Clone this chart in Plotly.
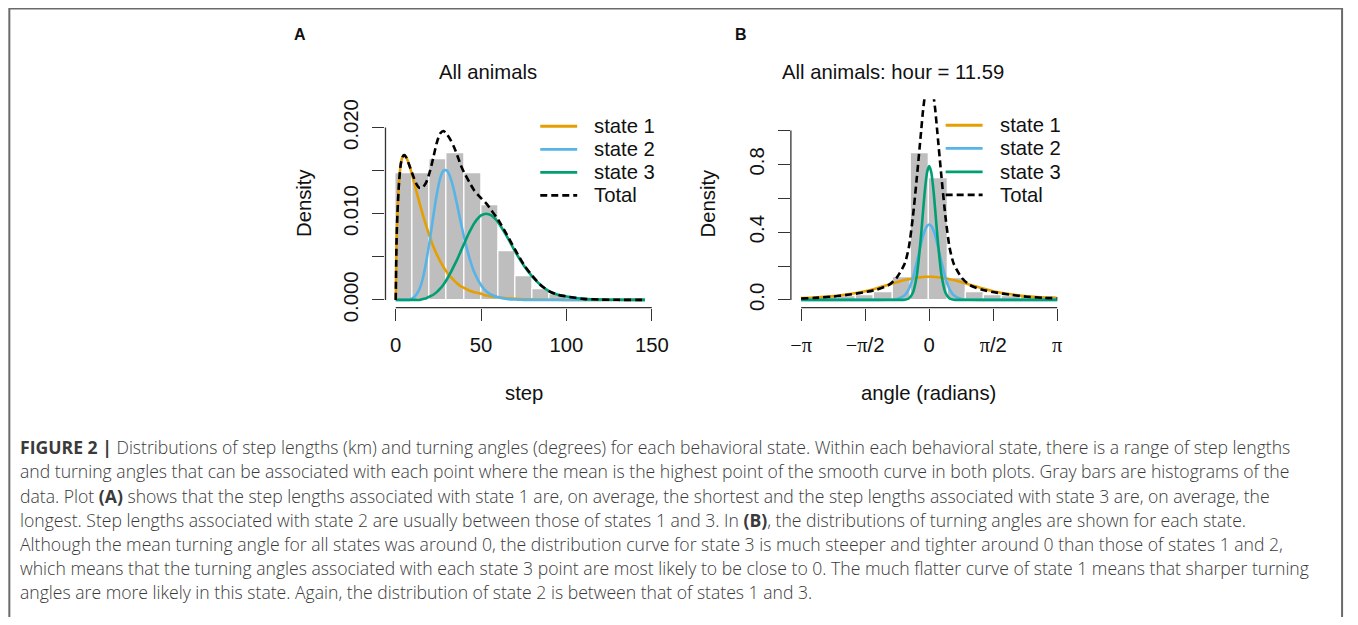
import numpy as np
import plotly.graph_objects as go

# figure div size (page adds an 8px body margin)
W, H = 1342, 609
OFF = 8
# measured mapping from page pixels to the captured picture
SX, SY, BY = 0.9955, 0.975, 1.2

# ---------------- Panel A : step lengths ----------------
step_bin_left = [0, 10, 20, 30, 40, 50, 60, 70, 80, 90]
step_bin_width = 10
step_hist = [0.0147, 0.0147, 0.0163, 0.0170, 0.0147, 0.0110, 0.0057, 0.0028, 0.0012, 0.0007]

step_x = [0, 0.5, 1, 2, 3, 4, 5, 6, 8, 10, 12, 14, 16, 18, 20, 22, 24, 26, 28, 30, 32, 34, 36, 38,
          40, 43, 46, 50, 53, 56, 60, 65, 70, 75, 80, 85, 90, 95, 100, 110, 120, 130, 146]
step_state1 = [0, 0.0070, 0.0100, 0.0138, 0.0158, 0.0166, 0.0168, 0.0166, 0.0156, 0.0142, 0.0127,
               0.0112, 0.0098, 0.0085, 0.0073, 0.0062, 0.0053, 0.0045, 0.0038, 0.0032, 0.0027,
               0.0023, 0.0019, 0.0016, 0.0014, 0.0011, 0.0009, 0.0007, 0.0005, 0.0004, 0.0003,
               0.0002, 0.00012, 0.00008, 0.00005, 0.00003, 0.00002, 0.00001, 0, 0, 0, 0, 0]
step_state2 = [0, 0, 0, 0, 0, 0, 0, 0, 0, 0.0002, 0.0006, 0.0013, 0.0026, 0.0046, 0.0070, 0.0097,
               0.0122, 0.0141, 0.0150, 0.0150, 0.0142, 0.0128, 0.0110, 0.0091, 0.0073, 0.0050,
               0.0032, 0.0017, 0.0010, 0.0006, 0.0003, 0.0001, 0.00004, 0, 0, 0, 0, 0, 0, 0, 0, 0, 0]
step_state3 = [0, 0, 0, 0, 0, 0, 0, 0, 0, 0, 0, 0, 0.0001, 0.0002, 0.0004, 0.0006, 0.0009, 0.0013,
               0.0018, 0.0024, 0.0031, 0.0039, 0.0047, 0.0056, 0.0065, 0.0078, 0.0089, 0.0098,
               0.0100, 0.0098, 0.0090, 0.0074, 0.0056, 0.0040, 0.0027, 0.0017, 0.0010, 0.0006,
               0.0004, 0.00012, 0.00004, 0.00001, 0]
step_total = [0, 0.0070, 0.0100, 0.0138, 0.0158, 0.0166, 0.0168, 0.0166, 0.0156, 0.0145, 0.0135,
              0.0130, 0.0131, 0.0137, 0.0149, 0.0165, 0.0182, 0.0193, 0.0196, 0.0192, 0.0186,
              0.0178, 0.0168, 0.0157, 0.0148, 0.0137, 0.0127, 0.0118, 0.0112, 0.0104, 0.0093,
              0.0076, 0.0058, 0.0041, 0.0028, 0.0017, 0.0010, 0.0006, 0.0004, 0.00012, 0.00004,
              0.00001, 0]
step_ticks = [0, 50, 100, 150]
dens_ticks_A = [0.000, 0.005, 0.010, 0.015, 0.020]
dens_labels_A = ["0.000", "", "0.010", "", "0.020"]

# ---------------- Panel B : turning angles ----------------
angle_bin_edges = list(np.linspace(-np.pi, np.pi, 15))
angle_hist = [0.018, 0.018, 0.022, 0.028, 0.045, 0.136, 0.866, 0.718, 0.126, 0.045, 0.028, 0.022,
              0.022, 0.024]
angle_x = [-3.1416, -2.8, -2.4, -2.0, -1.6, -1.3, -1.0, -0.8, -0.6, -0.5, -0.4, -0.3, -0.2, -0.15,
           -0.1, -0.05, 0, 0.05, 0.1, 0.15, 0.2, 0.3, 0.4, 0.5, 0.6, 0.8, 1.0, 1.3, 1.6, 2.0, 2.4,
           2.8, 3.1416]
angle_state1 = [0.011, 0.014, 0.021, 0.033, 0.050, 0.068, 0.090, 0.104, 0.117, 0.122, 0.127, 0.131,
                0.134, 0.135, 0.136, 0.137, 0.137, 0.137, 0.136, 0.135, 0.134, 0.131, 0.127, 0.122,
                0.117, 0.104, 0.090, 0.068, 0.050, 0.033, 0.021, 0.014, 0.011]
angle_state2 = [0, 0, 0, 0, 0, 0, 0.0005, 0.004, 0.027, 0.064, 0.130, 0.226, 0.331, 0.378, 0.414,
                0.437, 0.445, 0.437, 0.414, 0.378, 0.331, 0.226, 0.130, 0.064, 0.027, 0.004, 0.0005,
                0, 0, 0, 0, 0, 0]
angle_state3 = [0, 0, 0, 0, 0, 0, 0, 0, 0.001, 0.008, 0.042, 0.150, 0.380, 0.525, 0.660, 0.755,
                0.790, 0.755, 0.660, 0.525, 0.380, 0.150, 0.042, 0.008, 0.001, 0, 0, 0, 0, 0, 0, 0, 0]
angle_total = [0.008, 0.012, 0.019, 0.030, 0.045, 0.060, 0.087, 0.130, 0.215, 0.310, 0.490, 0.730,
               0.990, 1.120, 1.220, 1.330, 1.370, 1.330, 1.220, 1.120, 0.990, 0.730, 0.490, 0.310,
               0.215, 0.130, 0.087, 0.060, 0.045, 0.030, 0.019, 0.012, 0.010]
angle_ticks = [-np.pi, -np.pi / 2, 0, np.pi / 2, np.pi]
PI = '<span style="font-family:Liberation Serif, serif">\u03c0</span>'
MINUS = '<span style="font-family:Liberation Serif, serif">\u2212</span>'
angle_labels = [MINUS + PI, MINUS + PI + "/2", "0", PI + "/2", PI]
dens_ticks_B = [0.0, 0.2, 0.4, 0.6, 0.8, 1.0]
dens_labels_B = ["0.0", "", "0.4", "", "0.8", ""]

series_names = ["state 1", "state 2", "state 3", "Total"]
colors = ["#E69F00", "#56B4E9", "#009E73", "#000000"]

caption_lines = [
    "<b>FIGURE 2 |</b> Distributions of step lengths (km) and turning angles (degrees) for each behavioral state. Within each behavioral state, there is a range of step lengths",
    "and turning angles that can be associated with each point where the mean is the highest point of the smooth curve in both plots. Gray bars are histograms of the",
    "data. Plot <b>(A)</b> shows that the step lengths associated with state 1 are, on average, the shortest and the step lengths associated with state 3 are, on average, the",
    "longest. Step lengths associated with state 2 are usually between those of states 1 and 3. In <b>(B)</b>, the distributions of turning angles are shown for each state.",
    "Although the mean turning angle for all states was around 0, the distribution curve for state 3 is much steeper and tighter around 0 than those of states 1 and 2,",
    "which means that the turning angles associated with each state 3 point are most likely to be close to 0. The much flatter curve of state 1 means that sharper turning",
    "angles are more likely in this state. Again, the distribution of state 2 is between that of states 1 and 3.",
]

# ---------------- helpers (picture pixel -> paper fraction) ----------------
def px(x):
    return (x / SX - OFF) / W

def py(y):
    return 1 - ((y - BY) / SY - OFF) / H

FONT = "Liberation Sans, Arial, sans-serif"
CAPFONT = "Open Sans, Liberation Sans, sans-serif"
AX = "#333333"
DASH = "7px,4px"
FS = 20.3

fig = go.Figure()

fig.add_trace(go.Bar(x=[b + step_bin_width / 2 for b in step_bin_left], y=step_hist,
                     width=[step_bin_width] * len(step_hist),
                     marker=dict(color="#BEBEBE", line=dict(color="white", width=1.2)),
                     xaxis="x", yaxis="y", showlegend=False, hoverinfo="skip"))
for ys, c, dsh in zip([step_state1, step_state2, step_state3, step_total], colors,
                      ["solid", "solid", "solid", DASH]):
    fig.add_trace(go.Scatter(x=step_x, y=ys, mode="lines", xaxis="x", yaxis="y",
                             line=dict(color=c, width=2.6, dash=dsh, shape="spline", smoothing=0.7),
                             showlegend=False))

centers = [(angle_bin_edges[i] + angle_bin_edges[i + 1]) / 2 for i in range(len(angle_hist))]
widths = [angle_bin_edges[i + 1] - angle_bin_edges[i] for i in range(len(angle_hist))]
fig.add_trace(go.Bar(x=centers, y=angle_hist, width=widths,
                     marker=dict(color="#BEBEBE", line=dict(color="white", width=1.2)),
                     xaxis="x2", yaxis="y2", showlegend=False, hoverinfo="skip"))
for ys, c, dsh in zip([angle_state1, angle_state2, angle_state3, angle_total], colors,
                      ["solid", "solid", "solid", DASH]):
    fig.add_trace(go.Scatter(x=angle_x, y=ys, mode="lines", xaxis="x2", yaxis="y2",
                             line=dict(color=c, width=2.6, dash=dsh, shape="spline", smoothing=0.7),
                             showlegend=False))

common_ax = dict(showgrid=False, zeroline=False, showline=False, ticks="outside", ticklen=12,
                 tickwidth=1.3, tickcolor=AX, tickfont=dict(size=FS, color="#111", family=FONT),
                 fixedrange=True)

yA_dom = [py(308), py(100)]
fig.update_layout(
    width=W, height=H, margin=dict(l=0, r=0, t=0, b=0), paper_bgcolor="white",
    plot_bgcolor="rgba(0,0,0,0)", bargap=0, barmode="overlay",
    font=dict(family=FONT, color="#111"),
    xaxis=dict(domain=[px(385), px(662)], range=[-6, 156], tickvals=step_ticks,
               ticklabelstandoff=7, anchor="y", **common_ax),
    yaxis=dict(domain=yA_dom, range=[-0.000895, 0.02329], tickvals=dens_ticks_A,
               ticktext=dens_labels_A, tickangle=-90, ticklabelstandoff=6, anchor="x", **common_ax),
    xaxis2=dict(domain=[px(791), px(1068)], range=[-np.pi * 1.08, np.pi * 1.08],
                tickvals=angle_ticks, ticktext=angle_labels, ticklabelstandoff=7, anchor="y2",
                **common_ax),
    yaxis2=dict(domain=yA_dom, range=[-0.0456, 1.185], tickvals=dens_ticks_B,
                ticktext=dens_labels_B, tickangle=-90, ticklabelstandoff=6, anchor="x2",
                **common_ax),
)

shapes = []
for xr, yr, xt, yt in [("x", "y", step_ticks, dens_ticks_A), ("x2", "y2", angle_ticks, dens_ticks_B)]:
    shapes.append(dict(type="line", xref=xr, yref=yr + " domain", x0=xt[0], x1=xt[-1], y0=0, y1=0,
                       line=dict(color=AX, width=1.3)))
    shapes.append(dict(type="line", xref=xr + " domain", yref=yr, x0=0, x1=0, y0=yt[0], y1=yt[-1],
                       line=dict(color=AX, width=1.3)))
# outer frame (right edge limited by the page margin)
shapes.append(dict(type="rect", xref="paper", yref="paper", x0=px(8.3), x1=px(1343), y0=-0.05,
                   y1=py(9.5), line=dict(color="#6a6a6a", width=2)))

annotations = []

def text(x, y, s, size=FS, angle=0, xanchor="center", color="#111", family=FONT, weight=None):
    f = dict(size=size, family=family, color=color)
    if weight:
        f["weight"] = weight
    annotations.append(dict(x=px(x), y=py(y), xref="paper", yref="paper", text=s, showarrow=False,
                            font=f, textangle=angle, xanchor=xanchor, yanchor="middle",
                            borderpad=0, borderwidth=0))

text(299, 35, "<b>A</b>", size=16)
text(741, 35, "<b>B</b>", size=16)
text(488, 73, "All animals")
text(893, 73, "All animals: hour = 11.59")
text(524, 393, "step")
text(929, 393, "angle (radians)")
text(304, 204, "Density", angle=-90)
text(708, 204, "Density", angle=-90)

for (lx0, lx1, tx, rows) in [(540, 577, 594, [127, 150, 173, 196]),
                              (946, 983, 1000, [126, 149, 172.5, 195.5])]:
    for name, c, r in zip(series_names, colors, rows):
        shapes.append(dict(type="line", xref="paper", yref="paper", x0=px(lx0), x1=px(lx1),
                           y0=py(r), y1=py(r),
                           line=dict(color=c, width=2.8, dash=DASH if name == "Total" else "solid")))
        text(tx, r, name, xanchor="left")

cap_y = [447, 471.5, 495.5, 519.5, 543.5, 567.5, 591.5]
for s, yy in zip(caption_lines, cap_y):
    text(19, yy, s, size=17.6, xanchor="left", color="#3a3a3a", family=CAPFONT, weight=300)

fig.update_layout(shapes=shapes, annotations=annotations)
fig.write_html("out.html")
